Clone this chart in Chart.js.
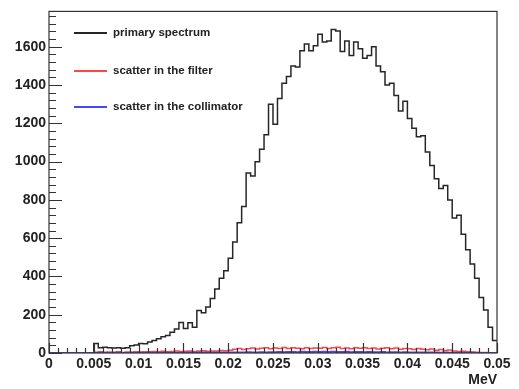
<!DOCTYPE html>
<html>
<head>
<meta charset="utf-8">
<script src="https://cdn.jsdelivr.net/npm/chart.js@4"></script>
<style>
  html, body { margin: 0; padding: 0; background: #ffffff; }
  #wrap { width: 519px; height: 389px; }
</style>
</head>
<body>
<div id="wrap"><canvas id="c" width="519" height="389"></canvas></div>
<script>
// ---- data ----
const binStart = 0.005;
const binWidth = 0.0005;
const seriesLabels = ["primary spectrum", "scatter in the filter", "scatter in the collimator"];
const primary = [
  50, 28, 30, 27, 26, 27, 25, 28, 38, 42,
  50, 48, 58, 65, 75, 85, 92, 108, 125, 160,
  128, 158, 135, 222, 210, 240, 285, 335, 390, 430,
  495, 580, 680, 765, 940, 925, 1000, 1065, 1140, 1300,
  1195, 1330, 1410, 1445, 1500, 1495, 1580, 1615, 1580, 1605,
  1665, 1625, 1630, 1690, 1682, 1575, 1630, 1555, 1625, 1590,
  1540, 1555, 1600, 1500, 1470, 1400, 1410, 1345, 1265, 1315,
  1225, 1175, 1130, 1135, 1050, 980, 910, 860, 875, 800,
  705, 720, 620, 540, 465, 390, 290, 225, 135, 65
];
const filterScatter = [
  4, 6, 3, 5, 4, 6, 3, 5, 4, 6,
  5, 7, 6, 8, 6, 9, 7, 8, 10, 8,
  9, 11, 8, 10, 12, 9, 11, 10, 13, 12,
  15, 20, 24, 18, 22, 26, 21, 25, 28, 22,
  26, 24, 29, 23, 27, 25, 22, 28, 24, 26,
  25, 29, 23, 27, 30, 24, 26, 22, 28, 25,
  27, 23, 26, 21, 25, 28, 22, 26, 20, 24,
  22, 18, 23, 19, 17, 21, 15, 18, 13, 16,
  10, 8, 9, 6, 5, 4, 3, 2, 1, 0
];
const collimatorScatter = [
  0, 0, 1, 0, 0, 1, 0, 0, 1, 0,
  1, 0, 1, 1, 0, 1, 1, 0, 1, 1,
  1, 2, 1, 2, 2, 1, 2, 3, 2, 2,
  3, 2, 3, 3, 4, 3, 3, 4, 3, 4,
  4, 5, 4, 5, 5, 4, 6, 5, 5, 6,
  5, 6, 5, 6, 5, 5, 6, 4, 5, 5,
  4, 5, 4, 4, 5, 3, 4, 4, 3, 4,
  3, 3, 2, 3, 2, 2, 2, 1, 2, 1,
  1, 1, 1, 0, 1, 0, 0, 0, 0, 0
];
const yTickValues = [0, 200, 400, 600, 800, 1000, 1200, 1400, 1600];
const xTickValues = [0, 0.005, 0.01, 0.015, 0.02, 0.025, 0.03, 0.035, 0.04, 0.045, 0.05];
const yMax = 1785;
const xMin = 0, xMax = 0.05;
const xAxisTitle = "MeV";

// ---- helpers ----
function toSteps(values) {
  const pts = [{ x: xMin, y: 0 }];
  values.forEach((v, i) => pts.push({ x: binStart + i * binWidth, y: v }));
  pts.push({ x: binStart + values.length * binWidth, y: values[values.length - 1] });
  return pts;
}

const colors = ["#262626", "rgb(255,70,70)", "rgb(70,70,255)"];
const FONT = "Liberation Sans, Arial, Helvetica, sans-serif";
const axisColor = "#333333";

const frameAndTicks = {
  id: "frameAndTicks",
  afterDatasetsDraw(chart) {
    const ctx = chart.ctx;
    const a = chart.chartArea;
    const xs = chart.scales.x, ys = chart.scales.y;
    ctx.save();
    ctx.strokeStyle = axisColor;
    ctx.lineWidth = 1.2;
    ctx.strokeRect(a.left, a.top, a.right - a.left, a.bottom - a.top);
    ctx.beginPath();
    // y ticks (inward), minor every 40
    for (let k = 0; k * 40 <= yMax; k++) {
      const v = k * 40;
      const py = Math.round(ys.getPixelForValue(v)) + 0.5;
      const len = (k % 5 === 0) ? 13 : 7;
      ctx.moveTo(a.left, py);
      ctx.lineTo(a.left + len, py);
    }
    // x ticks (inward), minor every 0.001
    for (let k = 0; k <= 50; k++) {
      const v = k * 0.001;
      const px = Math.round(xs.getPixelForValue(v)) + 0.5;
      const len = (k % 5 === 0) ? 10 : 5;
      ctx.moveTo(px, a.bottom);
      ctx.lineTo(px, a.bottom - len);
    }
    ctx.stroke();
    ctx.restore();
  },
  afterDraw(chart) {
    const ctx = chart.ctx;
    ctx.save();
    const ys = [33, 71, 107];
    chart.data.datasets.forEach((ds, i) => {
      ctx.strokeStyle = ds.borderColor;
      ctx.lineWidth = 2;
      ctx.beginPath();
      ctx.moveTo(74, ys[i]);
      ctx.lineTo(107, ys[i]);
      ctx.stroke();
      ctx.fillStyle = "#222222";
      ctx.font = "bold 11.5px " + FONT;
      ctx.textBaseline = "middle";
      ctx.textAlign = "left";
      ctx.fillText(ds.label, 113, ys[i]);
    });
    ctx.restore();
  }
};

new Chart(document.getElementById("c"), {
  type: "line",
  data: {
    datasets: [
      { label: seriesLabels[0], data: toSteps(primary), borderColor: colors[0], borderWidth: 1.5, stepped: "before", pointRadius: 0, fill: false, order: 3 },
      { label: seriesLabels[1], data: toSteps(filterScatter), borderColor: colors[1], borderWidth: 1.5, stepped: "before", pointRadius: 0, fill: false, order: 2 },
      { label: seriesLabels[2], data: toSteps(collimatorScatter), borderColor: colors[2], borderWidth: 2, stepped: "before", pointRadius: 0, fill: false, order: 1 }
    ]
  },
  options: {
    responsive: false,
    animation: false,
    events: [],
    layout: { padding: { left: 0, top: 7, right: 22, bottom: 0 } },
    plugins: { legend: { display: false }, tooltip: { enabled: false } },
    scales: {
      x: {
        type: "linear",
        min: xMin, max: xMax,
        afterFit(s) { s.height = 36; },
        afterBuildTicks(s) { s.ticks = xTickValues.map(v => ({ value: v })); },
        grid: { display: false, drawTicks: false },
        border: { display: false },
        ticks: {
          autoSkip: false, maxRotation: 0, padding: 3,
          color: "#222222",
          font: { family: FONT, size: 14, weight: "bold" },
          callback: v => String(parseFloat(Number(v).toFixed(4)))
        },
        title: {
          display: true, text: xAxisTitle, align: "end",
          color: "#222222",
          font: { family: FONT, size: 14, weight: "bold" },
          padding: { top: 0, bottom: 0 }
        }
      },
      y: {
        type: "linear",
        min: 0, max: yMax,
        afterFit(s) { s.width = 49; },
        afterBuildTicks(s) { s.ticks = yTickValues.map(v => ({ value: v })); },
        grid: { display: false, drawTicks: false },
        border: { display: false },
        ticks: {
          padding: 3,
          color: "#222222",
          font: { family: FONT, size: 14, weight: "bold" },
          callback: v => String(v)
        }
      }
    }
  },
  plugins: [frameAndTicks]
});
</script>
</body>
</html>
